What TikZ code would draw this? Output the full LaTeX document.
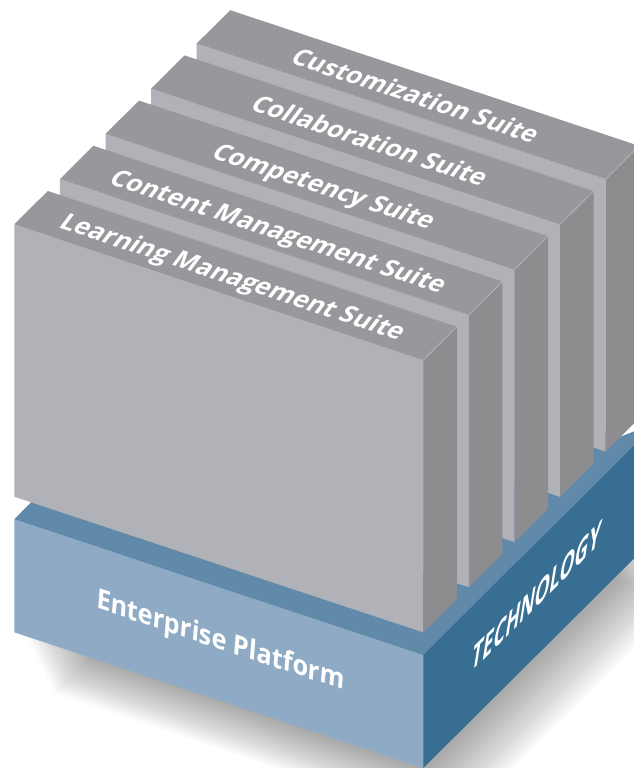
\documentclass[tikz,border=0pt]{standalone}
\usepackage{fontspec}
\setmainfont{Open Sans}
\definecolor{slabfront}{HTML}{B1B2B7}
\definecolor{slabtop}{HTML}{98979C}
\definecolor{slabside}{HTML}{8D8D8F}
\definecolor{slabedge}{HTML}{BDBDC1}
\definecolor{platfront}{HTML}{8EAAC4}
\definecolor{plattop}{HTML}{6189AA}
\definecolor{platside}{HTML}{386E92}
\begin{document}
\begin{tikzpicture}[x=1pt,y=-1pt,
  slabtext/.style={text=white, font=\bfseries\fontsize{25.5}{30}\selectfont, inner sep=0pt, anchor=base, transform shape},
  plattext/.style={text=white, font=\bfseries\fontsize{26.5}{31}\selectfont, inner sep=0pt, anchor=base, transform shape},
  shadowlayer/.style={fill=black!80, fill opacity=0.024}]
\useasboundingbox (0,0) rectangle (634,768);
\clip (0,0) rectangle (634,768);
\fill[white] (0,0) rectangle (634,768);
% soft shadow
\foreach \i in {1,...,20} {
  \begin{scope}[shift={(1.5*\i,3*\i)}]
    \fill[shadowlayer] (24,632.3) -- (423.3,768) -- (653.3,539.4) -- (254,410) -- cycle;
  \end{scope}
}
% platform
\fill[platfront] (14.3,519.3) -- (423.3,655) -- (423.3,768) -- (14.3,632.3) -- cycle;
\fill[plattop] (14.3,519.3) -- (423.3,655) -- (640,439.3) -- (640,429) -- (621,436.5) -- (230,300) -- cycle;
\fill[platside] (423.3,655) -- (640,439.3) -- (640,552.6) -- (423.3,768) -- cycle;
\begin{scope}[cm={0.949,-0.315,0.08,1.03,(220,649)}]
  \node[plattext] (ent) at (0,0) {Enterprise Platform};
\end{scope}
\begin{scope}[cm={0.709,0.705,0.22,1.38,(535,609)}]
  \node[plattext] (tech) at (0,0) {TECHNOLOGY};
\end{scope}
% slabs, back to front
\foreach \k/\name in {4/Customization Suite,3/Collaboration Suite,2/Competency Suite,1/Content Management Suite,0/Learning Management Suite} {
  \pgfmathsetmacro{\ox}{14.3+45.6*\k}
  \pgfmathsetmacro{\oy}{224.3-45.2*\k}
  \pgfmathsetmacro{\ax}{\ox+213.5}
  \pgfmathsetmacro{\ay}{\oy+59.5}
  \begin{scope}[shift={(\ox,\oy)}]
    \fill[slabfront] (0,0) -- (409,135.7) -- (409,408.1) -- (0,272.4) -- cycle;
    \fill[slabtop] (0,0) -- (33.5,-33.3) -- (442.5,102.4) -- (409,135.7) -- cycle;
    \fill[slabside] (409,135.7) -- (442.5,102.4) -- (442.5,374.8) -- (409,408.1) -- cycle;
    \draw[slabedge, line width=0.6pt] (409,135.7) -- (442.5,102.4);
  \end{scope}
  \begin{scope}[cm={0.949,-0.315,0.6,0.8,(\ax,\ay)}]
    \node[slabtext] (lbl\k) at (0,0) {\name};
  \end{scope}
}
\end{tikzpicture}
\end{document}
